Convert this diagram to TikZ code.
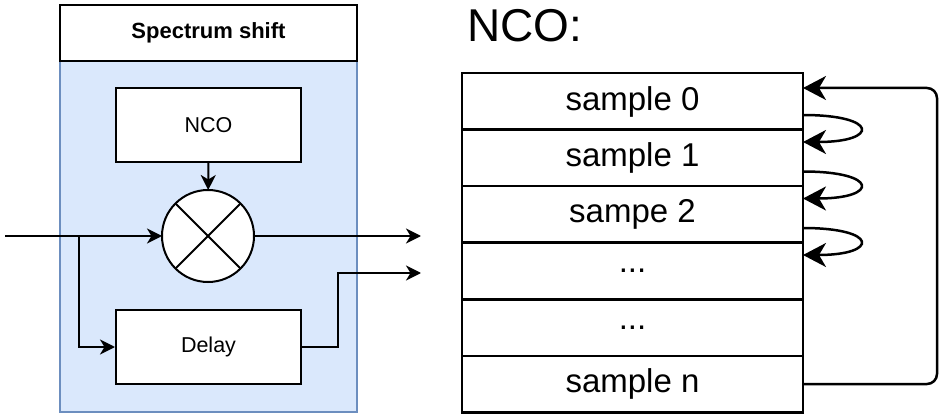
\documentclass[tikz,border=0pt]{standalone}
\usepackage{fontspec}
\setmainfont{Liberation Sans}
\usepackage{tikz}
\usetikzlibrary{arrows.meta, positioning}
\definecolor{shiftfill}{HTML}{DAE8FC}
\definecolor{shiftline}{HTML}{6C8EBF}

\begin{document}
\begin{tikzpicture}[x=1pt, y=-1pt,
  blk/.style={draw, fill=white, line width=2pt, minimum width=185pt, minimum height=74pt, font=\fontsize{21.5}{24}\selectfont},
  row/.style={draw, line width=2.5pt, outer sep=0pt, minimum width=341pt, minimum height=56.5pt, font=\fontsize{33}{36}\selectfont},
  arr/.style={line width=2pt, -{Stealth[length=15pt, width=15pt, inset=4.5pt]}},
  bigarr/.style={line width=2.5pt, -{Stealth[length=23pt, width=24pt, inset=7pt]}}]
\useasboundingbox (0,0) rectangle (940,414);
\node[draw=shiftline, fill=shiftfill, line width=2pt, minimum width=297pt, minimum height=351pt] (sh) at (208.5,236.5) {};
\node[draw, fill=white, line width=2pt, minimum width=297pt, minimum height=56pt, font=\bfseries\fontsize{22}{24}\selectfont] (T) at (208.5,33) {Spectrum shift};
\node[blk] (nco) at (208.5,125) {NCO};
\node[circle, draw, fill=white, line width=2pt, outer sep=0pt, minimum size=92pt] (mix) at (208,236) {};
\draw[line width=2pt] (mix.north west) -- (mix.south east);
\draw[line width=2pt] (mix.north east) -- (mix.south west);
\node[blk] (dl) at (208.5,347) {Delay};
\coordinate (in) at (5,236);
\coordinate (b) at (79,236);
\coordinate (o1) at (421,236);
\coordinate (k) at (338,273);
\coordinate (o2) at (421,273);
\draw[arr] (nco) -- (mix);
\draw[arr] (in) -- (mix);
\draw[arr] (b) |- (dl);
\draw[arr] (mix) -- (o1);
\draw[arr] (dl) -| (k) -- (o2);
\node[anchor=base west, inner sep=0pt, font=\fontsize{46}{50}\selectfont] (t2) at (467,42) {NCO:};
\node[row] (s0) at (632.5,101.5) {sample 0};
\node[row, below=0pt of s0] (s1) {sample 1};
\node[row, below=0pt of s1] (s2) {sampe 2};
\node[row, below=0pt of s2] (s3) {...};
\node[row, below=0pt of s3] (s4) {...};
\node[row, below=0pt of s4] (s5) {sample n};
\draw[bigarr] ([yshift=-13.5pt]s0.east) .. controls +(76,0) and +(76,0) .. ([yshift=16pt]s1.east);
\draw[bigarr] ([yshift=-13.5pt]s1.east) .. controls +(76,0) and +(76,0) .. ([yshift=16pt]s2.east);
\draw[bigarr] ([yshift=-13.5pt]s2.east) .. controls +(76,0) and +(76,0) .. ([yshift=16pt]s3.east);
\coordinate (r) at (937,384);
\draw[bigarr, rounded corners=10pt] (s5.east) -- (r) |- ([yshift=13.5pt]s0.east);
\end{tikzpicture}
\end{document}
